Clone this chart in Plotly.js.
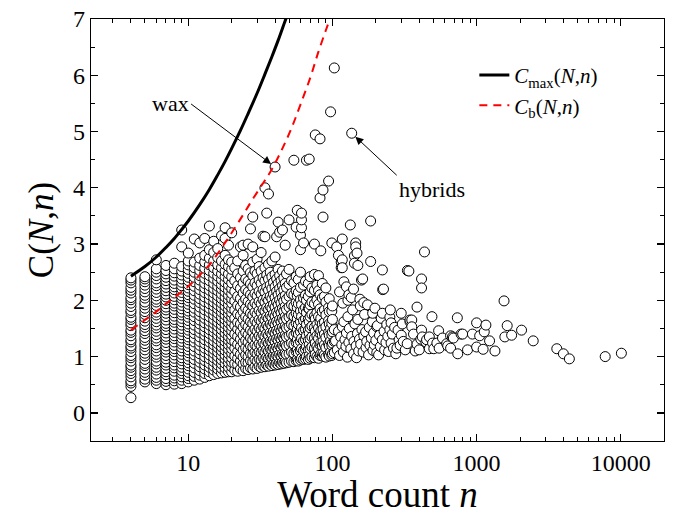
<!DOCTYPE html>
<html>
<head>
<meta charset="utf-8">
<script src="https://cdn.plot.ly/plotly-3.0.1.min.js"></script>
<style>html,body{margin:0;padding:0;background:#fff;}#chart{width:674px;height:515px;}</style>
</head>
<body>
<div id="chart"></div>
<script>
// ---- Columns of points at small word counts n (one y-list per n) ----
const colN = [4,5,6,7,8,9,10,11,12,13,14,15,16,17,18,19,20,
  21,22,23,24,25,26,27,28,29,30,31,32,33,34,35,36,37,38,39,40,
  41,42,43,44,45,46,47,48,50,52,54,56,57,58,60,61,63,65,66,68,69,70,
  72,75,76,78,80,82,83,85,86,88,90,94,95,97,99,100,103];
const colC = [
  [0.27,0.47,0.53,0.57,0.64,0.70,0.75,0.81,0.85,0.92,0.98,1.02,1.09,1.15,1.19,1.26,1.30,1.37,1.43,1.47,1.55,1.60,1.66,1.70,1.78,1.82,1.89,1.95,2.01,2.05,2.13,2.18,2.23,2.31,2.36,2.40],
  [0.55,0.60,0.67,0.72,0.78,0.84,0.88,0.95,1.01,1.06,1.12,1.18,1.23,1.29,1.34,1.41,1.46,1.52,1.57,1.63,1.69,1.75,1.80,1.86,1.92,1.97,2.04,2.09,2.15,2.21,2.27,2.33,2.38,2.42],
  [0.52,0.58,0.63,0.69,0.76,0.81,0.87,0.92,0.99,1.04,1.10,1.16,1.21,1.28,1.33,1.39,1.45,1.51,1.56,1.62,1.68,1.74,1.79,1.85,1.91,1.97,2.02,2.08,2.14,2.20,2.26,2.31,2.38,2.44,2.50,2.56,2.72],
  [0.50,0.56,0.61,0.68,0.73,0.79,0.85,0.90,0.96,1.02,1.08,1.13,1.19,1.25,1.31,1.36,1.42,1.48,1.54,1.59,1.65,1.71,1.77,1.83,1.88,1.94,2.00,2.06,2.11,2.17,2.23,2.29,2.35,2.41,2.47,2.53,2.62],
  [0.51,0.57,0.62,0.67,0.74,0.80,0.85,0.91,0.97,1.03,1.09,1.14,1.20,1.26,1.32,1.37,1.43,1.49,1.55,1.61,1.66,1.72,1.78,1.84,1.90,1.95,2.01,2.07,2.13,2.19,2.24,2.30,2.36,2.43,2.49,2.56,2.66],
  [0.52,0.58,0.64,0.70,0.75,0.81,0.87,0.93,0.98,1.04,1.10,1.16,1.22,1.27,1.33,1.39,1.45,1.50,1.56,1.62,1.68,1.74,1.79,1.85,1.91,1.97,2.03,2.08,2.14,2.20,2.26,2.32,2.38,2.45,2.52,2.60,2.95,3.25],
  [0.55,0.61,0.66,0.72,0.78,0.84,0.89,0.95,1.01,1.07,1.12,1.18,1.24,1.30,1.35,1.41,1.47,1.53,1.58,1.64,1.70,1.76,1.81,1.87,1.93,1.99,2.05,2.10,2.16,2.22,2.28,2.35,2.41,2.48,2.55,2.63,2.70,2.84],
  [0.58,0.65,0.72,0.80,0.88,0.95,1.03,1.10,1.18,1.26,1.33,1.41,1.48,1.56,1.64,1.71,1.79,1.86,1.94,2.02,2.09,2.17,2.25,2.33,2.41,2.50,2.58,2.68,3.09],
  [0.60,0.67,0.75,0.82,0.90,0.97,1.05,1.12,1.20,1.27,1.35,1.43,1.50,1.58,1.65,1.73,1.80,1.88,1.96,2.03,2.11,2.19,2.27,2.36,2.44,2.53,2.62,2.75,3.02],
  [0.63,0.70,0.78,0.85,0.93,1.00,1.08,1.15,1.23,1.30,1.38,1.45,1.53,1.60,1.68,1.75,1.83,1.91,1.98,2.06,2.14,2.22,2.30,2.39,2.48,2.57,2.68,2.80,3.10],
  [0.66,0.73,0.81,0.88,0.96,1.03,1.11,1.18,1.26,1.33,1.41,1.48,1.56,1.63,1.71,1.79,1.86,1.94,2.02,2.10,2.18,2.26,2.35,2.44,2.53,2.63,2.75,2.90,3.32],
  [0.68,0.76,0.83,0.91,0.98,1.06,1.13,1.21,1.28,1.36,1.44,1.51,1.59,1.66,1.74,1.82,1.90,1.97,2.05,2.13,2.21,2.30,2.39,2.48,2.58,2.70,2.85,3.05],
  [0.70,0.78,0.85,0.93,1.00,1.08,1.16,1.23,1.31,1.38,1.46,1.54,1.61,1.69,1.77,1.85,1.92,2.00,2.08,2.17,2.25,2.34,2.43,2.52,2.63,2.76,2.92],
  [0.71,0.79,0.87,0.94,1.02,1.10,1.17,1.25,1.33,1.40,1.48,1.56,1.64,1.71,1.79,1.87,1.95,2.03,2.11,2.20,2.28,2.37,2.47,2.58,2.70,3.15],
  [0.72,0.80,0.88,0.96,1.03,1.11,1.19,1.27,1.34,1.42,1.50,1.58,1.66,1.74,1.82,1.90,1.98,2.06,2.15,2.23,2.32,2.42,2.52,2.64,2.80,3.10,3.29],
  [0.73,0.81,0.89,0.97,1.05,1.13,1.21,1.29,1.36,1.44,1.52,1.60,1.68,1.76,1.84,1.92,2.01,2.09,2.18,2.27,2.37,2.47,2.60,2.72,2.98],
  [0.73,0.82,0.90,0.98,1.06,1.14,1.22,1.30,1.38,1.46,1.54,1.62,1.70,1.78,1.86,1.95,2.03,2.12,2.21,2.31,2.42,2.55,2.68,3.20],
  [0.76,0.88,1.01,1.15,1.27,1.40,1.55,1.68,1.83,1.99,2.16,2.35,2.58],
  [0.74,0.86,0.97,1.09,1.22,1.36,1.49,1.61,1.76,1.91,2.07,2.26,2.47,2.70],
  [0.78,0.92,1.04,1.18,1.31,1.44,1.58,1.73,1.88,2.03,2.21,2.40,2.95],
  [0.75,0.87,0.99,1.12,1.25,1.38,1.52,1.66,1.80,1.96,2.13,2.31,2.52,2.80,2.98],
  [0.79,0.90,1.03,1.16,1.29,1.43,1.57,1.71,1.86,2.02,2.19,2.38,2.62],
  [0.77,0.89,1.00,1.13,1.26,1.39,1.53,1.67,1.82,1.98,2.15,2.34,2.56,3.00],
  [0.80,0.93,1.06,1.19,1.33,1.47,1.62,1.77,1.93,2.10,2.29,2.49,3.27],
  [0.78,0.91,1.04,1.17,1.30,1.44,1.59,1.74,1.90,2.06,2.24,2.44,2.68,2.95,3.48],
  [0.82,0.95,1.08,1.21,1.35,1.49,1.64,1.79,1.95,2.12,2.31,2.52],
  [0.79,0.92,1.05,1.18,1.31,1.45,1.60,1.75,1.91,2.08,2.26,2.47,2.73],
  [0.83,0.96,1.09,1.23,1.37,1.51,1.66,1.82,1.98,2.16,2.36,2.60],
  [0.81,0.94,1.07,1.20,1.34,1.48,1.63,1.78,1.94,2.11,2.30,2.52,2.85],
  [0.84,0.98,1.11,1.25,1.39,1.53,1.68,1.84,2.01,2.19,2.40,3.14],
  [0.82,0.95,1.08,1.22,1.36,1.50,1.65,1.81,1.97,2.15,2.35,2.58,3.13,4.00],
  [0.85,0.99,1.13,1.27,1.41,1.56,1.71,1.87,2.04,2.23,2.45,3.55],
  [0.83,0.97,1.10,1.24,1.38,1.53,1.68,1.84,2.00,2.18,2.38,2.64,3.89],
  [0.86,1.00,1.14,1.28,1.43,1.58,1.73,1.89,2.07,2.27,2.50],
  [0.84,0.98,1.12,1.26,1.40,1.55,1.70,1.86,2.03,2.21,2.42,2.70],
  [0.87,1.01,1.15,1.30,1.45,1.60,1.76,1.93,2.11,2.32],
  [0.85,0.99,1.13,1.27,1.42,1.57,1.72,1.88,2.05,2.24,2.46,2.77,4.37],
  [0.88,1.02,1.17,1.32,1.47,1.63,1.79,1.97,2.16,2.38,3.13],
  [0.86,1.00,1.14,1.29,1.44,1.59,1.75,1.92,2.10,2.30,2.55,3.39],
  [0.89,1.04,1.19,1.34,1.50,1.66,1.83,2.01,2.21,2.44,3.21],
  [0.87,1.01,1.16,1.31,1.46,1.62,1.78,1.95,2.14,2.35],
  [0.90,1.05,1.20,1.36,1.52,1.68,1.86,2.05,2.26,2.52,3.25],
  [0.88,1.03,1.18,1.33,1.48,1.64,1.81,1.99,2.19,2.40],
  [0.91,1.06,1.22,1.38,1.54,1.71,1.89,2.08,2.30,2.98],
  [0.89,1.04,1.19,1.35,1.51,1.67,1.84,2.02,2.23,2.47],
  [0.90,1.05,1.21,1.37,1.53,1.70,1.88,2.07,2.28,2.55,3.43],
  [0.92,1.08,1.24,1.40,1.57,1.74,1.92,2.12,2.35],
  [0.91,1.06,1.22,1.38,1.55,1.72,1.90,2.10,2.31,4.49],
  [0.93,1.09,1.25,1.42,1.59,1.77,1.96,2.17,2.42,3.30],
  [0.95,1.12,1.30,1.48,1.67,1.87,2.08,3.60],
  [0.92,1.07,1.23,1.40,1.57,1.75,1.94,2.14,2.37],
  [0.94,1.10,1.27,1.44,1.62,1.81,2.01,2.23,2.50,2.90,3.16],
  [0.97,1.14,1.32,1.51,1.71,1.92,3.29,3.43,3.55],
  [0.95,1.11,1.28,1.46,1.64,1.83,2.04,2.27,3.02],
  [0.96,1.13,1.30,1.48,1.67,1.87,2.09,2.34],
  [1.00,1.18,1.37,1.57,1.78,2.00,4.49],
  [0.95,1.12,1.29,1.47,1.66,1.86,2.07,2.30],
  [1.02,1.21,1.41,1.62,1.85,4.51],
  [0.97,1.14,1.32,1.51,1.71,1.92,2.15,2.42],
  [0.99,1.17,1.35,1.54,1.75,1.97,2.22],
  [0.98,1.15,1.33,1.52,1.72,1.94,2.18,2.46,3.00],
  [1.04,1.24,1.45,1.67,4.94],
  [1.00,1.18,1.37,1.57,1.78,2.01,2.27],
  [0.97,1.14,1.32,1.51,1.71,1.93,2.17,2.44],
  [1.02,1.21,1.41,1.62,1.85,2.10,3.82,4.87],
  [1.05,1.25,1.46,1.68,2.88],
  [1.01,1.19,1.38,1.58,1.80,2.04,2.30],
  [1.06,1.27,1.49,3.48,3.96],
  [1.03,1.21,1.40,1.61,1.83,2.07],
  [0.99,1.16,1.34,1.53,1.74,1.97,2.22],
  [1.04,1.23,1.43,1.64,1.87,4.12],
  [1.01,1.19,1.38,1.58,1.80,2.03],
  [1.08,1.28,1.50,5.35],
  [1.02,1.20,1.39,1.59,1.81,3.02],
  [1.05,1.24,1.44,1.66,1.90],
  [1.07,1.27,1.48,6.13]
];
// ---- Individual points at larger n ----
const ptN = [105,107,108,110,110,112,112,114,115,115,116,117,117,117,117,118,119,120,120,122,124,125,125,127,128,128,130,130,131,133,134,135,136,136,138,140,140,141,142,142,143,145,145,146,147,148,149,150,150,152,154,155,156,157,159,160,162,163,165,165,167,170,171,173,175,178,180,182,184,184,186,189,190,191,193,195,197,200,203,203,205,209,212,215,218,222,222,222,223,226,228,230,235,238,242,245,250,250,252,255,255,260,265,270,275,280,285,290,295,300,300,305,310,320,330,331,339,345,345,355,355,365,375,386,386,400,410,415,415,415,420,435,445,450,470,470,490,495,505,530,545,550,580,620,630,660,660,680,690,735,740,780,800,865,935,1000,1000,1050,1110,1130,1160,1230,1340,1550,1570,1630,1750,2050,2470,3600,4000,4400,7800,10100];
const ptC = [1.28,2.95,1.12,1.45,2.80,1.02,2.15,1.35,2.68,2.58,1.21,1.53,2.72,2.58,3.09,1.95,1.08,1.62,2.33,1.30,1.18,1.42,2.24,0.99,1.71,2.00,1.25,2.10,1.50,3.34,1.14,2.05,4.97,1.36,1.83,1.05,2.20,1.27,2.79,2.66,1.58,3.02,2.95,1.19,0.98,2.84,1.41,1.66,2.62,1.10,1.31,2.02,1.90,1.22,2.36,1.48,2.38,1.08,1.37,1.96,1.75,1.44,1.16,1.27,1.92,1.03,1.52,1.20,3.41,2.69,1.33,1.62,1.77,1.11,1.42,1.21,1.86,1.29,1.07,1.53,1.55,1.03,1.38,1.18,1.68,1.30,2.54,1.77,2.19,2.20,1.45,1.12,1.25,1.57,1.36,1.09,1.48,1.70,1.83,1.24,1.60,1.40,1.15,1.52,1.05,1.15,1.47,1.30,1.20,1.38,1.77,1.58,1.27,1.12,1.23,2.53,2.52,1.62,1.65,1.65,1.53,1.40,1.10,1.88,1.22,1.12,1.31,1.47,2.38,2.22,1.35,2.86,1.26,1.30,1.14,1.35,1.71,1.24,1.14,1.24,1.46,1.15,1.33,1.23,1.19,1.37,1.15,1.35,1.33,1.69,1.05,1.40,1.40,1.12,1.40,1.60,1.17,1.37,1.13,1.44,1.56,1.28,1.10,1.99,1.35,1.55,1.38,1.47,1.28,1.14,1.05,0.96,1.00,1.06];
// ---- Bound curves ----
const cmaxN = [4,5,6,7,8,9,10,12,14,16,18,20,23,26,30,34,38,42,47,48];
const cmaxC = [2.43,2.60,2.77,2.94,3.10,3.26,3.41,3.70,3.97,4.23,4.47,4.70,5.02,5.32,5.68,6.02,6.33,6.62,6.97,7.03];
const cbN = [4,5,6,7,8,10,12,14,17,20,24,28,33,38,45,52,60,70,80,90,96];
const cbC = [1.47,1.65,1.80,1.94,2.05,2.25,2.45,2.63,2.93,3.20,3.52,3.80,4.08,4.33,4.70,5.06,5.48,5.95,6.42,6.80,7.00];
// ---- Axis ticks ----
const xTickVals = [10,100,1000,10000];
const xTickText = ['10','100','1000','10000'];
const xMinorVals = [3,4,5,6,7,8,9,20,30,40,50,60,70,80,90,200,300,400,500,600,700,800,900,
  2000,3000,4000,5000,6000,7000,8000,9000];
const yTickVals = [0,1,2,3,4,5,6,7];
const yMinorVals = [-0.5,0.5,1.5,2.5,3.5,4.5,5.5,6.5];
// ---- Labelled points ----
const waxN = 40, waxC = 4.37;
const hybN = 136, hybC = 4.97;

const sx = [], sy = [];
colN.forEach((n,i)=>{ colC[i].forEach(c=>{ sx.push(n); sy.push(c); }); });
ptN.forEach((n,i)=>{ sx.push(n); sy.push(ptC[i]); });

const FONT = 'Liberation Serif, Times New Roman, serif';
const traces = [
  {x:sx, y:sy, type:'scatter', mode:'markers', showlegend:false, hoverinfo:'skip',
   marker:{symbol:'circle', size:10, color:'#ffffff', line:{color:'#000000', width:1}}},
  {x:cmaxN, y:cmaxC, type:'scatter', mode:'lines', name:'<i>C</i><sub>max</sub>(<i>N</i>,<i>n</i>)',
   line:{color:'#000000', width:3, shape:'spline'}},
  {x:cbN, y:cbC, type:'scatter', mode:'lines', name:'<i>C</i><sub>b</sub>(<i>N</i>,<i>n</i>)',
   line:{color:'#ff0000', width:2, dash:'8px,6px', shape:'spline'}}
];
const layout = {
  width:674, height:515, margin:{l:91, r:10, t:19, b:74},
  paper_bgcolor:'#fff', plot_bgcolor:'#fff',
  font:{family:FONT, color:'#000'},
  xaxis:{type:'log', range:[0.325,4.3], tickmode:'array', tickvals:xTickVals, ticktext:xTickText,
    ticks:'inside', ticklen:7, tickwidth:1.2, tickcolor:'#000', mirror:'ticks',
    showline:true, linecolor:'#000', linewidth:1.3, showgrid:false, zeroline:false,
    tickfont:{family:FONT, size:24, color:'#000'},
    title:{text:'Word count <i>n</i>', font:{family:FONT, size:37, color:'#000'}, standoff:4}},
  yaxis:{range:[-0.5,7], tickmode:'array', tickvals:yTickVals,
    ticks:'inside', ticklen:7, tickwidth:1.2, tickcolor:'#000', mirror:'ticks',
    showline:true, linecolor:'#000', linewidth:1.3, showgrid:false, zeroline:false,
    tickfont:{family:FONT, size:24, color:'#000'},
    title:{text:'C(<i>N</i>,<i>n</i>)', font:{family:FONT, size:35, color:'#000'}, standoff:8}},
  legend:{x:0.669, y:0.915, xanchor:'left', yanchor:'top', bgcolor:'rgba(0,0,0,0)',
    font:{family:FONT, size:21, color:'#000'}},
  annotations:[
    {x:Math.log10(waxN), y:waxC, xref:'x', yref:'y', text:'wax', showarrow:true, arrowhead:2, arrowsize:1.6,
     arrowwidth:1, arrowcolor:'#000', ax:-84, ay:-63, standoff:5, xanchor:'right', yanchor:'middle',
     font:{family:FONT, size:22, color:'#000'}},
    {x:Math.log10(hybN), y:hybC, xref:'x', yref:'y', text:'hybrids', showarrow:true, arrowhead:2, arrowsize:1.6,
     arrowwidth:1, arrowcolor:'#000', ax:45, ay:42, standoff:5, xanchor:'left', yanchor:'top',
     font:{family:FONT, size:22, color:'#000'}}
  ]
};
Plotly.newPlot('chart', traces, layout, {staticPlot:true, displayModeBar:false}).then(gd=>{
  // Inward tick marks on all four sides, placed with Plotly's own axis scales.
  const fl = gd._fullLayout, xa = fl.xaxis, ya = fl.yaxis;
  let top = fl._toppaper ? fl._toppaper.node() : null;
  if (!top) { const svgs = gd.querySelectorAll('svg.main-svg'); top = svgs[svgs.length-1]; }
  if (!top || !xa || !ya) return;
  const NS = 'http://www.w3.org/2000/svg';
  const g = document.createElementNS(NS,'g');
  const xL = xa._offset, xR = xa._offset + xa._length;
  const yT = ya._offset, yB = ya._offset + ya._length;
  function seg(x1,y1,x2,y2,w){
    const l = document.createElementNS(NS,'line');
    l.setAttribute('x1',x1); l.setAttribute('y1',y1); l.setAttribute('x2',x2); l.setAttribute('y2',y2);
    l.setAttribute('stroke','#000'); l.setAttribute('stroke-width',w);
    l.setAttribute('shape-rendering','crispEdges');
    g.appendChild(l);
  }
  function xTick(v,len,w){
    const p = xL + xa.l2p(Math.log10(v));
    if (!(p > xL && p < xR)) return;
    seg(p,yB,p,yB-len,w); seg(p,yT,p,yT+len,w);
  }
  function yTick(v,len,w){
    const p = yT + ya.l2p(v);
    if (!(p > yT && p < yB)) return;
    seg(xL,p,xL+len,p,w); seg(xR,p,xR-len,p,w);
  }
  xTickVals.forEach(v=>xTick(v,7,1.3));
  xMinorVals.forEach(v=>xTick(v,4,1));
  yTickVals.forEach(v=>yTick(v,7,1.3));
  yMinorVals.forEach(v=>yTick(v,4,1));
  top.appendChild(g);
});
</script>
</body>
</html>
